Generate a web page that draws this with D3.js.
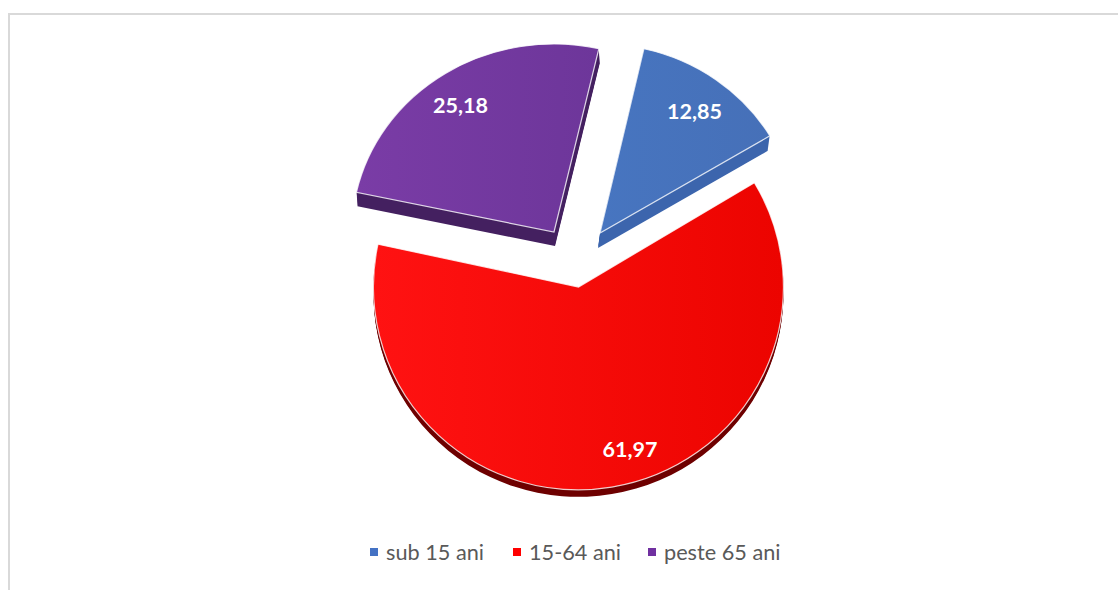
<!DOCTYPE html>
<meta charset="utf-8">
<style>
  body { margin: 0; background: #fff; }
  svg { display: block; }
</style>
<script src="https://d3js.org/d3.v7.min.js"></script>
<div id="my_dataviz"></div>

<script>

// data
var categories = ["sub 15 ani", "15-64 ani", "peste 65 ani"];
var values = [12.85, 61.97, 25.18];
var labels = ["12,85", "61,97", "25,18"];

// look of each slice, same order as categories
var topLight = ["#4775c0", "#ff1212", "#7a3ca6"];
var topDark = ["#4670b8", "#ec0400", "#6d369a"];
var wallColors = ["#3c65ad", "#6e0000", "#442060"];
var legendColors = ["#4472c4", "#ff0000", "#7030a0"];

var width = 1118, height = 590;

// where each exploded slice sits (the tilted pie makes them slightly different)
var layout = [
  {cx: 600, cy: 233, rx: 198, ry: 189, wallX: -2, wallY: 15, labelX: 694.5, labelY: 111},
  {cx: 578.5, cy: 287, rx: 205, ry: 203, wallX: 0, wallY: 7, labelX: 630, labelY: 449},
  {cx: 554, cy: 232, rx: 202, ry: 188, wallX: 1, wallY: 14, labelX: 460.5, labelY: 105}
];

var svg = d3.select("#my_dataviz")
  .append("svg")
    .attr("width", width)
    .attr("height", height);

svg.append("path")
  .attr("d", "M9,590V14H1118")
  .attr("fill", "none")
  .attr("stroke", "#d9d9d9")
  .attr("stroke-width", 2);

var defs = svg.append("defs");
categories.forEach(function(c, i) {
  var g = defs.append("linearGradient").attr("id", "grad" + i);
  g.append("stop").attr("offset", "0%").attr("stop-color", topLight[i]);
  g.append("stop").attr("offset", "100%").attr("stop-color", topDark[i]);
});

var pie = d3.pie().sort(null)
  .startAngle(12.8 * Math.PI / 180)
  .endAngle(372.8 * Math.PI / 180);
var arcs = pie(values);
var arc = d3.arc().innerRadius(0).outerRadius(1);

var slices = svg.selectAll(".slice")
  .data(arcs)
  .enter()
  .append("g")
    .attr("class", "slice");

// extrude the wall by stacking copies under the top face
slices.each(function(d, i) {
  var l = layout[i];
  var steps = d3.range(1, l.wallY + 1);
  d3.select(this).selectAll(".wall")
    .data(steps)
    .enter()
    .append("path")
      .attr("class", "wall")
      .attr("d", arc(d))
      .attr("fill", wallColors[i])
      .attr("transform", function(s) {
        var k = s / l.wallY;
        return "translate(" + (l.cx + l.wallX * k) + "," + (l.cy + s) + ") scale(" + l.rx + "," + l.ry + ")";
      });
  d3.select(this).append("path")
    .attr("class", "top")
    .attr("d", arc(d))
    .attr("fill", "url(#grad" + i + ")")
    .attr("stroke", "#fff")
    .attr("stroke-opacity", 0.8)
    .attr("stroke-width", 1.2)
    .attr("vector-effect", "non-scaling-stroke")
    .attr("transform", "translate(" + l.cx + "," + l.cy + ") scale(" + l.rx + "," + l.ry + ")");
  d3.select(this).append("text")
    .attr("x", l.labelX)
    .attr("y", l.labelY)
    .attr("dy", "0.35em")
    .attr("text-anchor", "middle")
    .attr("font-family", "Lato")
    .attr("font-weight", 700)
    .attr("font-size", 21.5)
    .attr("fill", "#fff")
    .text(labels[i]);
});

// legend
var legendX = [370, 513, 648];
var legend = svg.selectAll(".legend")
  .data(categories)
  .enter()
  .append("g")
    .attr("class", "legend")
    .attr("transform", function(d, i) { return "translate(" + legendX[i] + ",552)"; });
legend.append("rect")
  .attr("x", 0).attr("y", -4)
  .attr("width", 8).attr("height", 8)
  .attr("fill", function(d, i) { return legendColors[i]; });
legend.append("text")
  .attr("x", 16)
  .attr("dy", "0.35em")
  .attr("font-family", "Lato")
  .attr("font-size", 21.7)
  .attr("fill", "#595959")
  .text(function(d) { return d; });

</script>
